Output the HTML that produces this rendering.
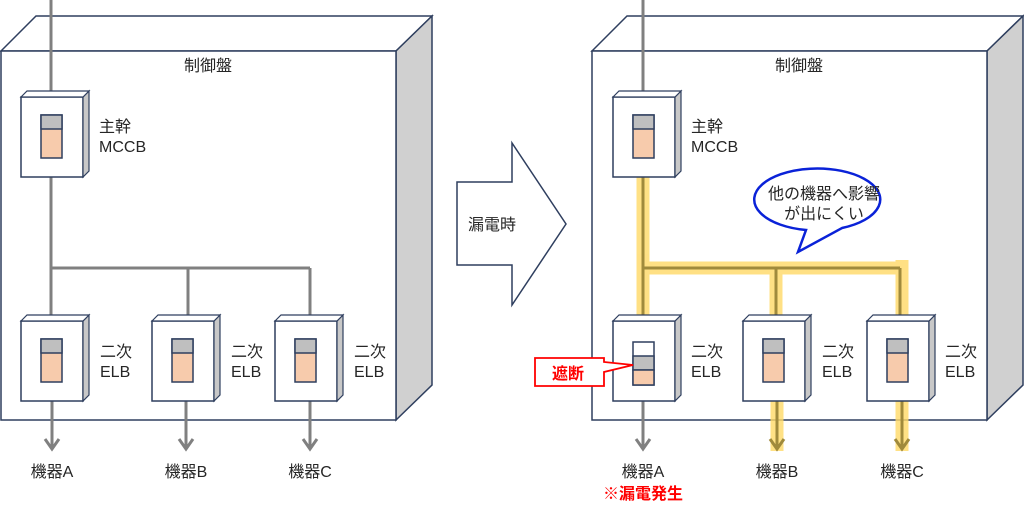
<!DOCTYPE html>
<html><head><meta charset="utf-8"><style>
body{margin:0;background:#fff}
svg text{font-family:"Liberation Sans","Noto Sans CJK JP",sans-serif;fill:#262626}
</style></head><body>
<svg width="1024" height="513" viewBox="0 0 1024 513" xmlns="http://www.w3.org/2000/svg">
<defs>
<g id="brk">
<rect x="0" y="0" width="62" height="80" fill="#fff" stroke="#2f3f5f" stroke-width="1.5"/>
<polygon points="62,0 68,-6 68,74 62,80" fill="#c8c8c8" stroke="#2f3f5f" stroke-width="1.2"/>
<polygon points="0,0 6,-6 68,-6 62,0" fill="#fff" stroke="#2f3f5f" stroke-width="1.2"/>
</g>
<g id="sw">
<rect x="20" y="18" width="21" height="43" fill="#f7cbac" stroke="#2f3f5f" stroke-width="1.5"/>
<rect x="20" y="18" width="21" height="14" fill="#bfbfbf" stroke="#2f3f5f" stroke-width="1.5"/>
</g>
<g id="panel">
<polygon points="1,51 36,16 432,16 396,51" fill="#fff" stroke="#2f3f5f" stroke-width="1.5"/>
<polygon points="396,51 432,16 432,385 396,420" fill="#d0d0d0" stroke="#2f3f5f" stroke-width="1.5"/>
<rect x="1" y="51" width="395" height="369" fill="#fff" stroke="#2f3f5f" stroke-width="1.5"/>
<text x="208" y="71" font-size="16" text-anchor="middle">制御盤</text>
</g>
</defs>
<!-- LEFT -->
<use href="#panel"/>
<g stroke="#808080" stroke-width="3" fill="none">
<line x1="51" y1="0" x2="51" y2="97"/>
<polyline points="51,174 51,268"/>
<line x1="51" y1="268" x2="310" y2="268"/>
<line x1="51" y1="268" x2="51" y2="318"/>
<line x1="188" y1="268" x2="188" y2="318"/>
<line x1="310" y1="268" x2="310" y2="318"/>
<line x1="52" y1="401" x2="52" y2="449"/><polyline points="45,439 52,449 59,439"/>
<line x1="186" y1="401" x2="186" y2="449"/><polyline points="179,439 186,449 193,439"/>
<line x1="310" y1="401" x2="310" y2="449"/><polyline points="303,439 310,449 317,439"/>
</g>
<g transform="translate(21,97)"><use href="#brk"/><use href="#sw"/></g>
<text x="99" y="132" font-size="16">主幹</text><text x="99" y="152" font-size="16">MCCB</text>
<g transform="translate(21,321)"><use href="#brk"/><use href="#sw"/></g>
<g transform="translate(152,321)"><use href="#brk"/><use href="#sw"/></g>
<g transform="translate(275,321)"><use href="#brk"/><use href="#sw"/></g>
<g font-size="16"><text x="100" y="357">二次</text><text x="100" y="377">ELB</text>
<text x="231" y="357">二次</text><text x="231" y="377">ELB</text>
<text x="354" y="357">二次</text><text x="354" y="377">ELB</text>
<text x="52" y="477" text-anchor="middle">機器A</text>
<text x="186" y="477" text-anchor="middle">機器B</text>
<text x="310" y="477" text-anchor="middle">機器C</text></g>
<!-- ARROW -->
<polygon points="457,182 512,182 512,143 566,224 512,305 512,265 457,265" fill="#fff" stroke="#2f3f5f" stroke-width="1.5"/>
<text x="492" y="230" font-size="16" text-anchor="middle">漏電時</text>
<!-- RIGHT -->
<g transform="translate(591,0)"><use href="#panel"/></g>
<g stroke="#ffd966" stroke-width="13" fill="none" opacity="0.8">
<line x1="643" y1="174" x2="643" y2="318"/>
<line x1="643" y1="268" x2="903" y2="268"/>
<line x1="776" y1="274" x2="776" y2="318"/>
<line x1="902" y1="260" x2="902" y2="318"/>
<line x1="777" y1="401" x2="777" y2="451"/>
<line x1="902" y1="401" x2="902" y2="451"/>
</g>
<g stroke="#808080" stroke-width="3" fill="none">
<line x1="643" y1="0" x2="643" y2="97"/>
<line x1="643" y1="401" x2="643" y2="449"/><polyline points="636,439 643,449 650,439"/>
</g>
<g stroke="#a08a3c" stroke-width="3" fill="none">
<line x1="643" y1="174" x2="643" y2="318"/>
<line x1="643" y1="268" x2="900" y2="268"/>
<line x1="776" y1="268" x2="776" y2="318"/>
<line x1="900" y1="268" x2="900" y2="318"/>
<line x1="777" y1="401" x2="777" y2="449"/><polyline points="770,439 777,449 784,439"/>
<line x1="902" y1="401" x2="902" y2="449"/><polyline points="895,439 902,449 909,439"/>
</g>
<g transform="translate(613,97)"><use href="#brk"/><use href="#sw"/></g>
<text x="691" y="132" font-size="16">主幹</text><text x="691" y="152" font-size="16">MCCB</text>
<g transform="translate(613,321)"><use href="#brk"/>
<rect x="20" y="21" width="21" height="43" fill="#fff" stroke="#2f3f5f" stroke-width="1.5"/>
<rect x="20" y="35" width="21" height="14" fill="#bfbfbf" stroke="#2f3f5f" stroke-width="1.5"/>
<rect x="20" y="49" width="21" height="15" fill="#f7cbac" stroke="#2f3f5f" stroke-width="1.5"/></g>
<g transform="translate(743,321)"><use href="#brk"/><use href="#sw"/></g>
<g transform="translate(867,321)"><use href="#brk"/><use href="#sw"/></g>
<g font-size="16"><text x="691" y="357">二次</text><text x="691" y="377">ELB</text>
<text x="822" y="357">二次</text><text x="822" y="377">ELB</text>
<text x="945" y="357">二次</text><text x="945" y="377">ELB</text>
<text x="643" y="477" text-anchor="middle">機器A</text>
<text x="777" y="477" text-anchor="middle">機器B</text>
<text x="902" y="477" text-anchor="middle">機器C</text></g>
<text x="643" y="499" font-size="16" font-weight="bold" text-anchor="middle" style="fill:#ff0000">※漏電発生</text>
<!-- callout -->
<polygon points="535,358 604,358 604,362 633,365 604,372 604,386 535,386" fill="#fff" stroke="#ff0000" stroke-width="1.8"/>
<text x="568" y="379" font-size="16" font-weight="bold" text-anchor="middle" style="fill:#ff0000">遮断</text>
<!-- bubble -->
<path d="M806,230 A63,31 0 1,1 842,228 L798,252 Z" fill="#fff" stroke="#0a22d8" stroke-width="2.5"/>
<text x="824" y="199" font-size="16" text-anchor="middle">他の機器へ影響</text>
<text x="824" y="219" font-size="16" text-anchor="middle">が出にくい</text>
</svg>
</body></html>
